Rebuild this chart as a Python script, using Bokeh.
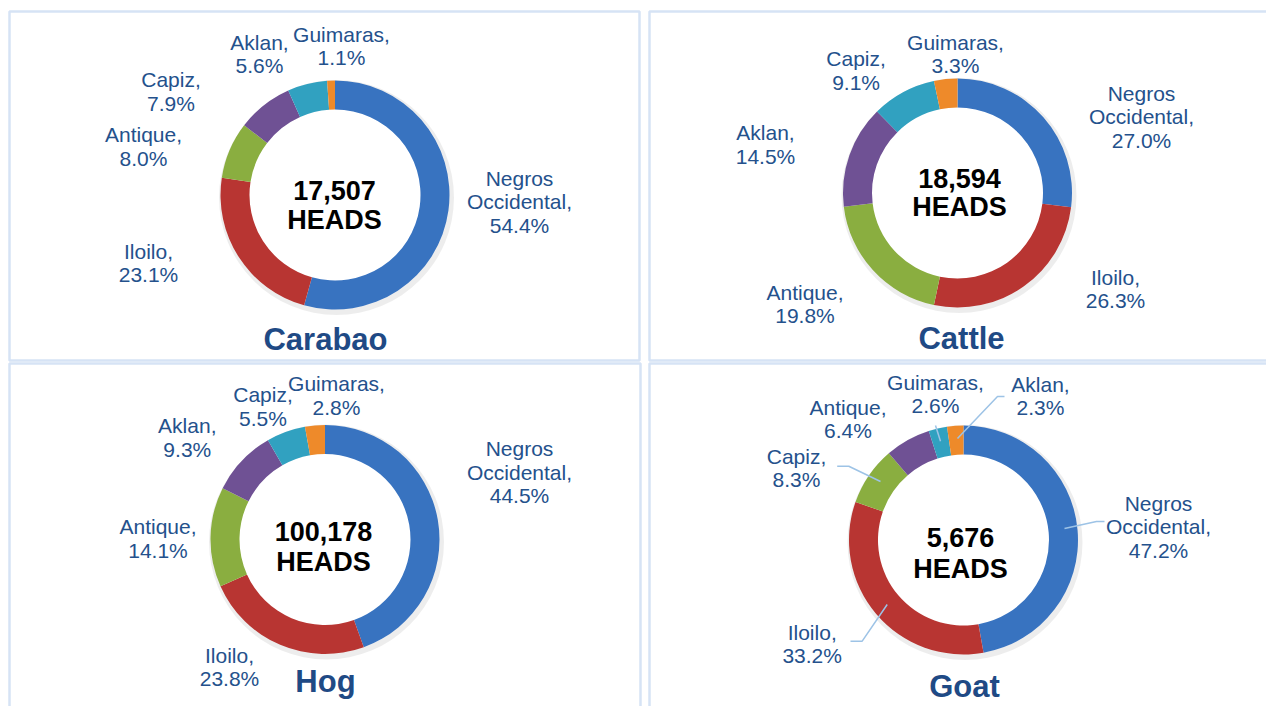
import numpy as np
from bokeh.plotting import figure
from bokeh.models import Range1d
from bokeh.core.properties import value
from bokeh.embed import file_html
from bokeh.resources import INLINE

# ---------------- data ----------------
chart_names = ["Carabao", "Cattle", "Hog", "Goat"]
chart_totals = [17507, 18594, 100178, 5676]

carabao_regions = ["Negros Occidental", "Iloilo", "Antique", "Capiz", "Aklan", "Guimaras"]
carabao_pct = [54.4, 23.1, 8.0, 7.9, 5.6, 1.1]

cattle_regions = ["Negros Occidental", "Iloilo", "Antique", "Aklan", "Capiz", "Guimaras"]
cattle_pct = [27.0, 26.3, 19.8, 14.5, 9.1, 3.3]

hog_regions = ["Negros Occidental", "Iloilo", "Antique", "Aklan", "Capiz", "Guimaras"]
hog_pct = [44.5, 23.8, 14.1, 9.3, 5.5, 2.8]

goat_regions = ["Negros Occidental", "Iloilo", "Capiz", "Antique", "Guimaras", "Aklan"]
goat_pct = [47.2, 33.2, 8.3, 6.4, 2.6, 2.3]

all_regions = [carabao_regions, cattle_regions, hog_regions, goat_regions]
all_pct = [carabao_pct, cattle_pct, hog_pct, goat_pct]

# ---------------- styles / layout ----------------
palette = ["#3873c0", "#b83532", "#8aae40", "#6f5194", "#31a1c0", "#ee8a2a"]
LABEL_COLOR = "#24518c"
TITLE_COLOR = "#1f4a85"
BORDER_COLOR = "#d6e3f5"
LEADER_COLOR = "#9dc3e6"
FONT = "Liberation Sans"

W, H = 1266, 706


def fy(y):
    # image y (top-down) -> data y (bottom-up)
    return H - y


R_OUT = 114.5
R_IN = 85.5
LINE_STEP = 23.5

layout = [
    dict(center=(334.5, 194.5),
         labels=[(519, 201), (148, 262.5), (143, 146), (170.5, 91), (259, 53.4), (341, 45.5)],
         title=(325, 339), num=(334, 190), heads=(334, 219)),
    dict(center=(957, 192.5),
         labels=[(1141, 116), (1115, 288.5), (804.5, 303.5), (765, 144), (855.6, 70), (955, 53.4)],
         title=(961, 338), num=(959, 178), heads=(959, 206.7)),
    dict(center=(324.5, 539),
         labels=[(519, 471.7), (229, 666.4), (157.5, 538), (186.8, 437), (262.5, 406), (336, 395)],
         title=(325, 681), num=(323, 531), heads=(323, 561)),
    dict(center=(963, 539.5),
         labels=[(1158, 526), (811.7, 643.4), (796, 467.4), (847.5, 418.7), (935, 393.5), (1040, 395.5)],
         title=(964, 686), num=(960, 537), heads=(960, 568)),
]

# goat leader lines (image coordinates)
goat_leaders = [
    [(1104, 521), (1096, 521), (1064, 528)],
    [(850, 640.7), (861.7, 640.7), (886.7, 604)],
    [(836.7, 465.7), (848.3, 465.7), (880, 481)],
    [(935, 425), (940, 440.7)],
    [(1004, 396), (997, 396), (957, 438)],
]

panels = [(9, 11, 639, 360), (649, 11, 1275, 360), (9, 363, 640, 712), (649, 363, 1275, 712)]

p = figure(width=W, height=H, output_backend="svg", toolbar_location=None,
           x_range=Range1d(0, W), y_range=Range1d(0, H),
           x_axis_location=None, y_axis_location=None, min_border=0,
           outline_line_color=None, background_fill_color="white")
p.grid.visible = False

# panel borders
p.quad(left=[b[0] for b in panels], right=[b[2] for b in panels],
       top=[fy(b[1]) for b in panels], bottom=[fy(b[3]) for b in panels],
       fill_color=None, line_color=BORDER_COLOR, line_width=2.5)

for ci in range(4):
    L = layout[ci]
    cx, cy = L["center"]
    pct = np.array(all_pct[ci], dtype=float)
    frac = pct / pct.sum()
    cum = np.concatenate([[0.0], np.cumsum(frac)])
    starts = np.pi / 2 - 2 * np.pi * cum[:-1]
    ends = np.pi / 2 - 2 * np.pi * cum[1:]

    # soft shadow
    p.annular_wedge(x=[cx + 1.5], y=[fy(cy) - 2.5], inner_radius=R_OUT - 3, outer_radius=R_OUT + 3,
                    start_angle=0, end_angle=2 * np.pi, fill_color="#000000", fill_alpha=0.07,
                    line_color=None)
    p.annular_wedge(x=[cx] * len(pct), y=[fy(cy)] * len(pct), inner_radius=R_IN, outer_radius=R_OUT,
                    start_angle=list(starts), end_angle=list(ends), direction="clock",
                    fill_color=palette[:len(pct)], line_color=None)

    # labels
    xs, ys, ts = [], [], []
    for ri, reg in enumerate(all_regions[ci]):
        if reg == "Negros Occidental":
            lines = ["Negros", "Occidental,", f"{all_pct[ci][ri]:.1f}%"]
        else:
            lines = [reg + ",", f"{all_pct[ci][ri]:.1f}%"]
        lx, ly = L["labels"][ri]
        n = len(lines)
        for k, t in enumerate(lines):
            xs.append(lx)
            ys.append(fy(ly + (k - (n - 1) / 2) * LINE_STEP))
            ts.append(t)
    p.text(x=xs, y=ys, text=ts, text_font=value(FONT), text_font_size=value("21px"),
           text_color=LABEL_COLOR, text_align="center", text_baseline="middle")

    # center text
    p.text(x=[L["num"][0], L["heads"][0]], y=[fy(L["num"][1]), fy(L["heads"][1])],
           text=[f"{chart_totals[ci]:,}", "HEADS"], text_font=value(FONT),
           text_font_size=value("27px"), text_font_style="bold", text_color="black",
           text_align="center", text_baseline="middle")

    # title
    p.text(x=[L["title"][0]], y=[fy(L["title"][1])], text=[chart_names[ci]],
           text_font=value(FONT), text_font_size=value("31px"), text_font_style="bold",
           text_color=TITLE_COLOR, text_align="center", text_baseline="middle")

# goat leader lines
p.multi_line(xs=[[pt[0] for pt in ln] for ln in goat_leaders],
             ys=[[fy(pt[1]) for pt in ln] for ln in goat_leaders],
             line_color=LEADER_COLOR, line_width=1.5)

open("out.html", "w").write(file_html(p, INLINE))
